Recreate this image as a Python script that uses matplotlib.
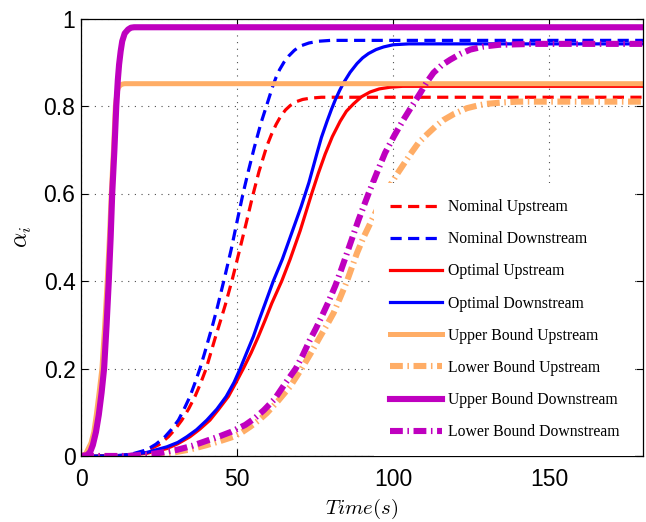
import matplotlib
matplotlib.use("Agg")
import matplotlib.pyplot as plt
from matplotlib.ticker import FixedLocator, FixedFormatter

# ---- data: time (s) and alpha_i for each strategy ----
t_nom_up = [0, 12, 17, 21.6, 25, 28, 30, 32.3, 34.5, 36.5, 38.3, 40.1, 41.5, 42.9, 44.5,
            46.2, 48.5, 50.7, 53.0, 55.0, 57.0, 59.5, 61, 62.5, 64, 65.5, 67, 69, 71, 73.5,
            77, 82, 90, 180]
a_nom_up = [0, 0, 0.004, 0.014, 0.026, 0.044, 0.06, 0.082, 0.108, 0.136, 0.166, 0.2, 0.234,
            0.268, 0.305, 0.345, 0.405, 0.468, 0.535, 0.595, 0.650, 0.708, 0.735, 0.758,
            0.777, 0.791, 0.801, 0.810, 0.815, 0.818, 0.82, 0.82, 0.82, 0.82]

t_nom_down = [0, 10, 16, 21.0, 24, 26.9, 29, 31.2, 33, 34.9, 36.5, 38.1, 39.5, 40.9, 42.3,
              43.6, 45.9, 48.1, 50.1, 51.9, 53.7, 55.5, 57.6, 59.4, 61.4, 62.5, 63.6, 65,
              66.5, 68.3, 70.2, 73, 76, 80, 85, 180]
a_nom_down = [0, 0, 0.004, 0.014, 0.027, 0.044, 0.061, 0.082, 0.107, 0.136, 0.167, 0.2,
              0.233, 0.268, 0.303, 0.338, 0.405, 0.472, 0.54, 0.6, 0.654, 0.705, 0.76, 0.8,
              0.845, 0.866, 0.883, 0.9, 0.914, 0.927, 0.937, 0.944, 0.948, 0.95, 0.95, 0.95]

t_opt_up = [0, 12, 21, 27.5, 31, 34.9, 38, 41.3, 44, 47.2, 49.5, 52.0, 54.5, 56.8, 59, 61.1,
            64.3, 67.0, 70.2, 73.9, 76, 78.2, 80.5, 83.0, 85, 87.3, 89.8, 92.6, 95.5, 99.0,
            103, 110, 180]
a_opt_up = [0, 0, 0.006, 0.017, 0.028, 0.044, 0.061, 0.082, 0.106, 0.136, 0.166, 0.2, 0.236,
            0.273, 0.311, 0.349, 0.4, 0.45, 0.515, 0.6, 0.646, 0.69, 0.73, 0.765, 0.788,
            0.805, 0.821, 0.832, 0.839, 0.843, 0.845, 0.845, 0.845]

t_opt_down = [0, 12, 21, 27.5, 31, 33.9, 37, 40.3, 43.5, 46.5, 49, 51.0, 53, 55.2, 57, 59.0,
              61.6, 64.5, 67.5, 70.5, 73.0, 75.5, 77, 78.8, 80.2, 81.5, 82.8, 84.1, 86.2,
              88.4, 90.2, 92.1, 94.5, 96.9, 100, 105, 180]
a_opt_down = [0, 0, 0.008, 0.021, 0.031, 0.044, 0.06, 0.082, 0.107, 0.136, 0.168, 0.2, 0.235,
              0.273, 0.31, 0.349, 0.4, 0.45, 0.51, 0.57, 0.625, 0.69, 0.728, 0.765, 0.792,
              0.815, 0.835, 0.853, 0.877, 0.897, 0.91, 0.92, 0.929, 0.935, 0.94, 0.942, 0.942]

t_ub_up = [0, 1.5, 3.2, 4.1, 4.9, 5.8, 6.7, 7.6, 8.4, 9.1, 9.7, 10.4, 11.0, 11.5, 11.9,
           12.5, 13.2, 14.0, 180]
a_ub_up = [0, 0.005, 0.03, 0.055, 0.094, 0.145, 0.2, 0.3, 0.4, 0.5, 0.6, 0.7, 0.8, 0.828,
           0.841, 0.847, 0.85, 0.851, 0.851]

t_lb_up = [0, 18, 24, 29.6, 35, 40.3, 44.5, 48.8, 51.5, 54.2, 57, 59.5, 63, 67, 70.7, 73.6,
           76.6, 78.8, 80.9, 83, 85.2, 86.8, 88.4, 90.5, 93.2, 97, 101, 105.5, 108, 110.8,
           113.5, 116.1, 119.5, 123.6, 127, 130, 135, 140, 180]
a_lb_up = [0, 0, 0.003, 0.008, 0.015, 0.025, 0.034, 0.044, 0.054, 0.067, 0.082, 0.098,
           0.125, 0.159, 0.2, 0.235, 0.273, 0.3, 0.327, 0.362, 0.4, 0.432, 0.464, 0.5, 0.54,
           0.595, 0.642, 0.69, 0.715, 0.735, 0.753, 0.768, 0.782, 0.795, 0.801, 0.805,
           0.808, 0.81, 0.81]

t_ub_down = [0, 2.0, 3.0, 3.8, 4.8, 5.7, 6.6, 7.4, 8.2, 8.9, 9.5, 10.0, 10.7, 11.3, 11.8,
             12.2, 12.7, 13.2, 14.0, 15.1, 16, 17, 180]
a_ub_down = [0, 0.002, 0.01, 0.025, 0.055, 0.094, 0.145, 0.2, 0.3, 0.4, 0.5, 0.6, 0.7, 0.8,
             0.86, 0.895, 0.925, 0.948, 0.966, 0.975, 0.979, 0.98, 0.98]

t_lb_down = [0, 15, 22, 26, 30.7, 35.5, 40.3, 44, 48, 52.6, 55.6, 58.6, 62, 65.4, 68.8, 71,
             73.3, 75.2, 77.1, 79.3, 81.5, 83.4, 85.2, 88.9, 92.1, 94.8, 97.4, 100.4, 103.3,
             106, 108.7, 110.8, 112.9, 115.5, 118.3, 121.5, 124.7, 129, 134, 145, 180]
a_lb_down = [0, 0, 0.004, 0.008, 0.014, 0.023, 0.035, 0.044, 0.055, 0.071, 0.086, 0.105,
             0.13, 0.166, 0.2, 0.23, 0.265, 0.291, 0.319, 0.353, 0.39, 0.427, 0.464, 0.54,
             0.6, 0.648, 0.693, 0.733, 0.769, 0.8, 0.83, 0.855, 0.876, 0.893, 0.906, 0.919,
             0.929, 0.936, 0.94, 0.942, 0.942]

labels = ["Nominal Upstream", "Nominal Downstream", "Optimal Upstream",
          "Optimal Downstream", "Upper Bound Upstream", "Lower Bound Upstream",
          "Upper Bound Downstream", "Lower Bound Downstream"]

x_ticks = [0, 50, 100, 150]
y_ticks = [0, 0.2, 0.4, 0.6, 0.8, 1.0]
y_tick_labels = ["0", "0.2", "0.4", "0.6", "0.8", "1"]

# ---- styling ----
plt.rcParams["mathtext.fontset"] = "cm"
RED = "#ff0000"
BLUE = "#0000ff"
ORANGE = "#ffad66"
MAGENTA = "#bf00bf"
DASH = (3.5, 2.0)
DASHDOT = (2.1, 0.75, 0.25, 0.75)

fig = plt.figure(figsize=(6.46, 5.22), dpi=100)
ax = fig.add_axes([81 / 646, 66 / 522, 562 / 646, 437.5 / 522])

series = [
    (t_nom_up, a_nom_up, RED, 2.3, DASH),
    (t_nom_down, a_nom_down, BLUE, 2.3, DASH),
    (t_opt_up, a_opt_up, RED, 2.3, None),
    (t_opt_down, a_opt_down, BLUE, 2.3, None),
    (t_ub_up, a_ub_up, ORANGE, 3.6, None),
    (t_lb_up, a_lb_up, ORANGE, 4.4, DASHDOT),
    (t_ub_down, a_ub_down, MAGENTA, 4.4, None),
    (t_lb_down, a_lb_down, MAGENTA, 4.4, DASHDOT),
]
for (t, a, c, lw, dash), lab in zip(series, labels):
    line, = ax.plot(t, a, color=c, lw=lw, label=lab, solid_joinstyle="round")
    if dash is not None:
        line.set_dashes(dash)

ax.set_xlim(0, 180)
ax.set_ylim(0, 1)
ax.xaxis.set_major_locator(FixedLocator(x_ticks))
ax.yaxis.set_major_locator(FixedLocator(y_ticks))
ax.yaxis.set_major_formatter(FixedFormatter(y_tick_labels))
ax.tick_params(direction="in", top=True, right=True, length=5, width=0.8,
               labelsize=16.5, labelfontfamily="Liberation Sans")
ax.tick_params(axis="x", pad=9)
ax.tick_params(axis="y", pad=4)
for s in ax.spines.values():
    s.set_linewidth(0.9)
ax.grid(True, color="0.3", lw=0.8, linestyle=(0, (1, 5)))
ax.set_axisbelow(True)

ax.set_xlabel(r"$Time(s)$", fontsize=15, labelpad=4)
ax.set_ylabel(r"$\alpha_i$", fontsize=17, labelpad=7)

leg = ax.legend(loc="lower right", bbox_to_anchor=(1 - 8 / 562, 0.0),
                prop={"family": "Liberation Serif", "size": 11.3},
                frameon=True, fancybox=False, framealpha=1, facecolor="white",
                edgecolor="none", borderpad=1.0, borderaxespad=0.0,
                handlelength=3.35, handletextpad=0.36, labelspacing=1.03)

fig.savefig("out.png", dpi=100)
